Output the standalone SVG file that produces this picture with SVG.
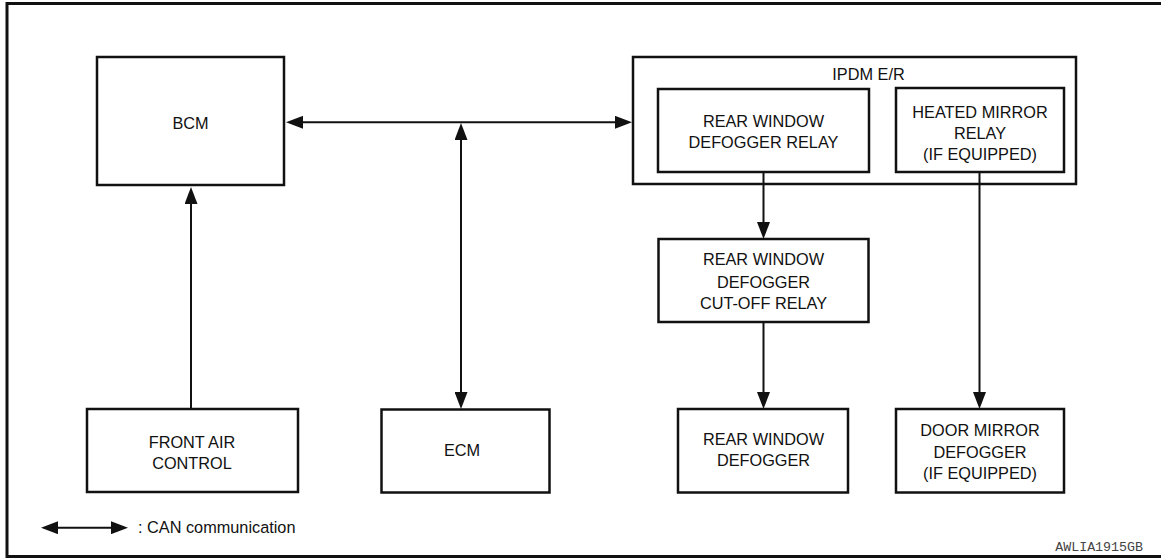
<svg xmlns="http://www.w3.org/2000/svg" width="1161" height="558" viewBox="0 0 1161 558">
  <style>
    .box { fill: #fff; stroke: #111; stroke-width: 2.5; }
    .lbl { font-family: "Liberation Sans", Arial, sans-serif; font-size: 16.3px; fill: #111; text-anchor: middle; }
    .conn { stroke: #111; stroke-width: 2; fill: none; }
  </style>
  <defs>
    <marker id="ah" markerUnits="userSpaceOnUse" markerWidth="17" markerHeight="13" refX="9" refY="6.5" orient="auto-start-reverse" viewBox="0 0 17 13">
      <path d="M0,0 L17,6.5 L0,13 z" fill="#111"/>
    </marker>
  </defs>
  <rect width="1161" height="558" fill="#fff"/>
  <rect x="7" y="3.5" width="1160" height="553" fill="none" stroke="#111" stroke-width="3"/>

  <g id="bcm">
    <rect class="box" x="97" y="57" width="187" height="128"/>
    <text class="lbl" x="190.5" y="129">BCM</text>
  </g>
  <g id="ipdm">
    <rect class="box" x="633" y="57" width="443" height="127"/>
    <text class="lbl" x="868.5" y="80">IPDM E/R</text>
  </g>
  <g id="rwd-relay">
    <rect class="box" x="658" y="89" width="211" height="83"/>
    <text class="lbl" x="763.5" y="127">REAR WINDOW</text>
    <text class="lbl" x="763.5" y="148">DEFOGGER RELAY</text>
  </g>
  <g id="heated-mirror-relay">
    <rect class="box" x="896" y="88" width="168" height="84"/>
    <text class="lbl" x="980" y="117.5">HEATED MIRROR</text>
    <text class="lbl" x="980" y="138.7">RELAY</text>
    <text class="lbl" x="980" y="160">(IF EQUIPPED)</text>
  </g>
  <g id="cutoff-relay">
    <rect class="box" x="658.5" y="239" width="210" height="83"/>
    <text class="lbl" x="763.5" y="265">REAR WINDOW</text>
    <text class="lbl" x="763.5" y="287.5">DEFOGGER</text>
    <text class="lbl" x="763.5" y="309">CUT-OFF RELAY</text>
  </g>
  <g id="front-air">
    <rect class="box" x="87" y="409" width="211" height="83"/>
    <text class="lbl" x="192" y="447.5">FRONT AIR</text>
    <text class="lbl" x="192" y="468.5">CONTROL</text>
  </g>
  <g id="ecm">
    <rect class="box" x="381.5" y="409.5" width="168" height="83"/>
    <text class="lbl" x="462" y="456">ECM</text>
  </g>
  <g id="rwd">
    <rect class="box" x="678" y="409" width="170" height="83.5"/>
    <text class="lbl" x="763.5" y="445">REAR WINDOW</text>
    <text class="lbl" x="763.5" y="466">DEFOGGER</text>
  </g>
  <g id="door-mirror">
    <rect class="box" x="896" y="409" width="168" height="83.5"/>
    <text class="lbl" x="980" y="436">DOOR MIRROR</text>
    <text class="lbl" x="980" y="457.5">DEFOGGER</text>
    <text class="lbl" x="980" y="479">(IF EQUIPPED)</text>
  </g>

  <g id="connectors">
    <line class="conn" x1="294" y1="122.3" x2="624" y2="122.3" marker-start="url(#ah)" marker-end="url(#ah)"/>
    <line class="conn" x1="461" y1="131" x2="461" y2="401" marker-start="url(#ah)" marker-end="url(#ah)"/>
    <line class="conn" x1="191" y1="409" x2="191" y2="195" marker-end="url(#ah)"/>
    <line class="conn" x1="763.5" y1="172" x2="763.5" y2="231" marker-end="url(#ah)"/>
    <line class="conn" x1="763.5" y1="322" x2="763.5" y2="401" marker-end="url(#ah)"/>
    <line class="conn" x1="979.5" y1="172" x2="979.5" y2="401" marker-end="url(#ah)"/>
    <line class="conn" x1="49" y1="527.7" x2="120" y2="527.7" marker-start="url(#ah)" marker-end="url(#ah)"/>
  </g>

  <text x="138" y="532.5" style="font-family: 'Liberation Sans', Arial, sans-serif; font-size: 16.3px; fill: #111;">: CAN communication</text>
  <text x="1143" y="551" text-anchor="end" style="font-family: 'Liberation Mono', 'Courier New', monospace; font-size: 13.3px; fill: #444;">AWLIA1915GB</text>
</svg>
